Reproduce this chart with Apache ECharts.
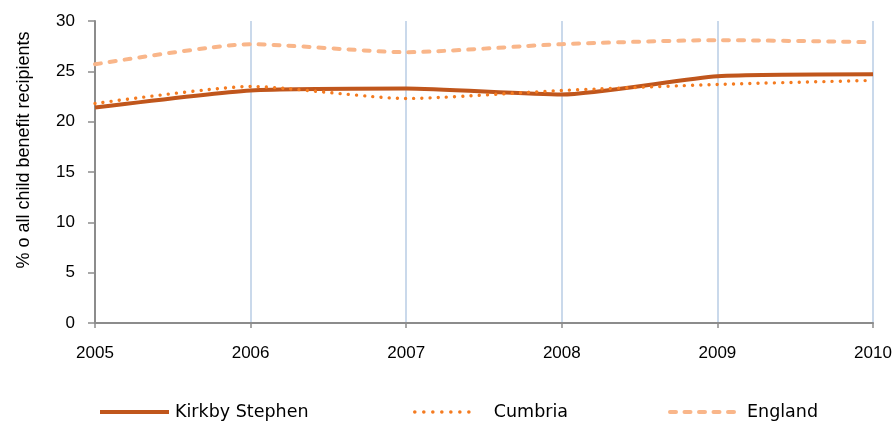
<!DOCTYPE html>
<html><head><meta charset="utf-8">
<script src="https://cdn.jsdelivr.net/npm/echarts@6/dist/echarts.min.js"></script>
<style>html,body{margin:0;padding:0;background:#fff}#c{width:896px;height:422px}</style>
</head><body><div id="c"></div>
<script>
const years = ['2005','2006','2007','2008','2009','2010'];
const kirkby = [21.4, 23.1, 23.3, 22.7, 24.5, 24.7];
const cumbria = [21.8, 23.5, 22.3, 23.1, 23.7, 24.1];
const england = [25.7, 27.7, 26.9, 27.7, 28.1, 27.9];
const yTicks = [0, 5, 10, 15, 20, 25, 30];

const chart = echarts.init(document.getElementById('c'));
const font = 'Liberation Sans, Arial, sans-serif';
const legFont = 'DejaVu Sans, sans-serif';
function leg(name, left, w, pad, ls) {
  return {data:[name], left:left, top:403, padding:0, itemWidth:w, itemHeight:14, itemGap:0,
    itemStyle:{opacity:0}, lineStyle:ls,
    textStyle:{fontFamily:legFont, fontSize:17.5, color:'#000', padding:[0,0,0,pad]}};
}
chart.setOption({
  animation:false,
  grid:{left:95, right:23, top:21, bottom:99},
  legend:[
    leg('Kirkby Stephen', 98, 69, 1, {color:'#c0561c', width:4, type:'solid'}),
    leg('Cumbria', 413, 63, 11, {color:'#f47b20', width:3.6, type:[0.01,9], cap:'round'}),
    leg('England', 668, 71, 1, {color:'#f9b68a', width:4, type:[6,8.5], cap:'round'})
  ],
  xAxis:{type:'category', data:years, boundaryGap:false,
    axisLine:{lineStyle:{color:'#8c8c8c', width:2}},
    axisTick:{show:true, length:5, alignWithLabel:true, lineStyle:{color:'#8c8c8c', width:1.5}},
    axisLabel:{fontFamily:font, fontSize:17, color:'#000', margin:22},
    splitLine:{show:true, lineStyle:{color:'#b8cce4', width:1.5}}},
  yAxis:{type:'value', min:yTicks[0], max:yTicks[yTicks.length-1], interval:5,
    name:'% o all child benefit recipients', nameLocation:'middle', nameGap:62,
    nameTextStyle:{fontFamily:font, fontSize:18, color:'#000', padding:[0,0,0,44]},
    axisLine:{show:true, lineStyle:{color:'#8c8c8c', width:2}},
    axisTick:{show:true, length:7, lineStyle:{color:'#8c8c8c', width:1.5}},
    axisLabel:{fontFamily:font, fontSize:17, color:'#000', margin:20},
    splitLine:{show:false}},
  series:[
    {name:'Kirkby Stephen', type:'line', data:kirkby, smooth:0.2, symbol:'none',
      color:'#c0561c', lineStyle:{color:'#c0561c', width:4}},
    {name:'Cumbria', type:'line', data:cumbria, smooth:0.2, symbol:'none',
      color:'#f47b20', lineStyle:{color:'#f47b20', width:3.4, type:[0.01,8.2], cap:'round'}},
    {name:'England', type:'line', data:england, smooth:0.2, symbol:'none',
      color:'#f9b68a', lineStyle:{color:'#f9b68a', width:4, type:[6,9], cap:'round'}}
  ]
});
</script></body></html>
